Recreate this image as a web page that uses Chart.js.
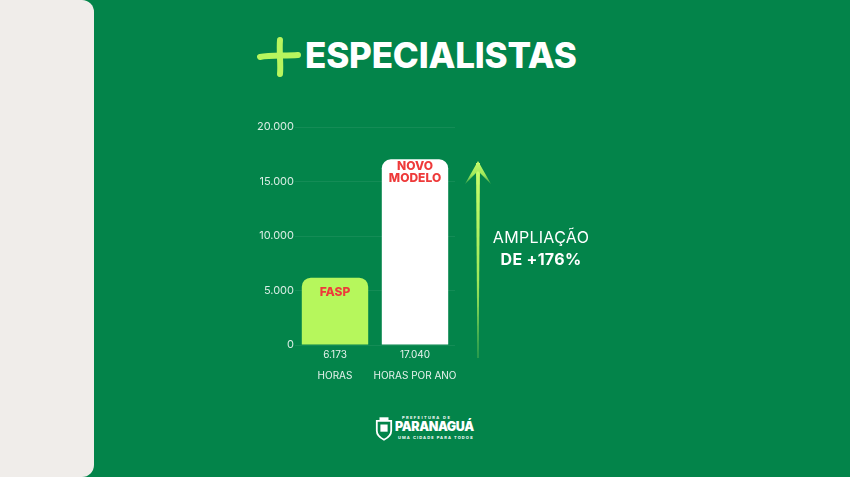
<!DOCTYPE html>
<html>
<head>
<meta charset="utf-8">
<script src="https://cdn.jsdelivr.net/npm/chart.js@4"></script>
<style>
  html, body { margin: 0; padding: 0; }
  body {
    width: 850px; height: 477px; overflow: hidden; position: relative;
    background: #03844a; font-family: Inter, "Open Sans", sans-serif; color: #fff;
  }
  .side {
    position: absolute; left: 0; top: 0; width: 94px; height: 477px;
    background: #f0edea; border-radius: 0 12px 12px 0;
  }
  .title {
    position: absolute; left: 305px; top: 33px; font-size: 35px; font-weight: 800;
    letter-spacing: -0.2px; line-height: 44px; white-space: nowrap;
  }
  .plus { position: absolute; left: 254px; top: 34px; }
  .chart-box { position: absolute; left: 240px; top: 100px; width: 240px; height: 290px; }
  .arrow { position: absolute; left: 460px; top: 155px; }
  .note {
    position: absolute; left: 470px; top: 226px; width: 142px; text-align: center;
    font-size: 16px; line-height: 22px; letter-spacing: 0.3px;
  }
  .note b { font-weight: 700; }
  .logo { position: absolute; left: 375px; top: 415px; width: 110px; height: 30px; }
  .logo .pre { position: absolute; left: 27px; top: 0; font-size: 4px; letter-spacing: 1.4px; font-weight: 700; }
  .logo .name { position: absolute; left: 20px; top: 4px; font-size: 12.5px; font-weight: 900; letter-spacing: -0.4px; }
  .logo .sub { position: absolute; left: 23px; top: 20px; font-size: 4px; letter-spacing: 1.1px; font-weight: 700; }
</style>
</head>
<body>
<div class="side"></div>

<svg class="plus" width="50" height="46" viewBox="0 0 50 46">
  <path d="M6 23 C16 21 30 22 44 21" stroke="#b8f55e" stroke-width="6" stroke-linecap="round" fill="none"/>
  <path d="M26 6 C25 18 27 30 26 40" stroke="#b8f55e" stroke-width="6" stroke-linecap="round" fill="none"/>
</svg>
<div class="title">ESPECIALISTAS</div>

<div class="chart-box"><canvas id="chart"></canvas></div>

<svg class="arrow" width="40" height="210" viewBox="0 0 40 210">
  <defs>
    <linearGradient id="ag" x1="0" y1="0" x2="0" y2="1">
      <stop offset="0" stop-color="#c9ff6c"/>
      <stop offset="0.6" stop-color="#9fe85a"/>
      <stop offset="1" stop-color="#3fa84e"/>
    </linearGradient>
  </defs>
  <polygon points="16,8 20,8 18.6,203 17.4,203" fill="url(#ag)"/>
  <polygon points="18,6 31,29 18,16 5,29" fill="url(#ag)"/>
</svg>

<div class="note">AMPLIAÇÃO<br><b>DE +176%</b></div>

<div class="logo">
  <svg width="18" height="24" viewBox="0 0 20 26" style="position:absolute;left:0;top:2px">
    <path d="M2 4 H18 V15 C18 20 14 23 10 25 C6 23 2 20 2 15 Z" fill="none" stroke="#fff" stroke-width="2"/>
    <rect x="6" y="8" width="8" height="8" fill="#fff"/>
    <rect x="5" y="0" width="10" height="3" fill="#fff"/>
  </svg>
  <div class="pre">PREFEITURA DE</div>
  <div class="name">PARANAGUÁ</div>
  <div class="sub">UMA CIDADE PARA TODOS</div>
</div>

<script>
// data
const categories = ["HORAS", "HORAS POR ANO"];
const hours = [6173, 17040];
const barLabels = [["FASP"], ["NOVO", "MODELO"]];
const yTicks = [0, 5000, 10000, 15000, 20000];

const barColors = ["#b6f75c", "#ffffff"];
const fmt = (v) => v.toLocaleString("pt-BR");

// writes the red labels inside the top of each bar
const innerLabels = {
  id: "innerLabels",
  afterDatasetsDraw(chart, args, opts) {
    const ctx = chart.ctx;
    const meta = chart.getDatasetMeta(0);
    ctx.save();
    ctx.fillStyle = opts.color;
    ctx.font = opts.font;
    ctx.textAlign = "center";
    ctx.textBaseline = "top";
    meta.data.forEach(function (bar, i) {
      const lines = barLabels[i];
      const start = bar.y + opts.offsets[i];
      lines.forEach(function (line, j) {
        ctx.fillText(line, bar.x, start + j * opts.lineGap);
      });
    });
    ctx.restore();
  },
};

new Chart(document.getElementById("chart"), {
  type: "bar",
  data: {
    labels: categories,
    datasets: [
      {
        data: hours,
        backgroundColor: barColors,
        borderRadius: 9,
        borderSkipped: "bottom",
        categoryPercentage: 1,
        barPercentage: 0.83,
      },
    ],
  },
  options: {
    responsive: true,
    maintainAspectRatio: false,
    animation: false,
    layout: { padding: { left: 0, right: 25, top: 27, bottom: 0 } },
    plugins: {
      legend: { display: false },
      tooltip: { enabled: false },
      innerLabels: {
        color: "#ee3a3a",
        font: "800 12px Inter, 'Open Sans', sans-serif",
        offsets: [9, 1],
        lineGap: 12,
      },
    },
    scales: {
      y: {
        min: 0,
        max: 20000,
        afterFit: function (scale) { scale.width = 55; },
        afterBuildTicks: function (scale) {
          scale.ticks = yTicks.map(function (v) { return { value: v }; });
        },
        border: { display: false },
        grid: { color: "rgba(255,255,255,0.07)", drawTicks: false },
        ticks: {
          padding: 1,
          color: "rgba(255,255,255,0.85)",
          font: { family: "Inter, 'Open Sans', sans-serif", size: 11 },
          callback: function (value) { return fmt(value); },
        },
      },
      x: {
        afterFit: function (scale) { scale.height = 45; },
        border: { display: false },
        grid: { display: false },
        ticks: {
          padding: -9,
          minRotation: 0,
          maxRotation: 0,
          autoSkip: false,
          color: "rgba(255,255,255,0.9)",
          font: { family: "Inter, 'Open Sans', sans-serif", size: 10, lineHeight: 2.1 },
          callback: function (value, index) {
            return [fmt(hours[index]), categories[index]];
          },
        },
      },
    },
  },
  plugins: [innerLabels],
});
</script>
</body>
</html>
